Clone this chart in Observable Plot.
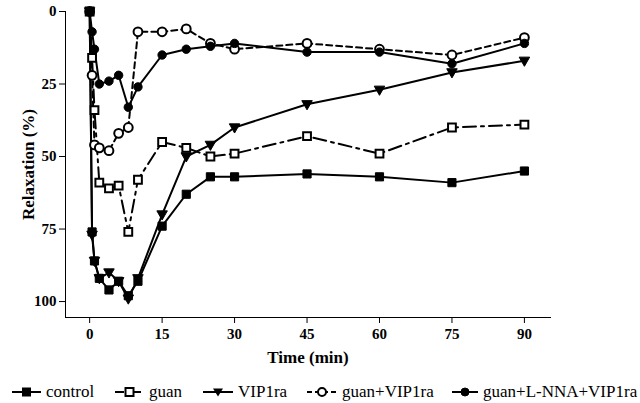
<!DOCTYPE html>
<html>
<head>
<meta charset="utf-8">
<script src="https://cdn.jsdelivr.net/npm/d3@7"></script>
<script src="https://cdn.jsdelivr.net/npm/@observablehq/plot@0.6"></script>
<style>
  body { margin: 0; background: #fff; }
  #wrap { position: relative; width: 640px; height: 403px; font-family: "Liberation Serif", "Times New Roman", Times, serif; }
  #chart svg { display: block; }
  #chart svg text { font-family: "Liberation Serif", "Times New Roman", Times, serif; }
  g[aria-label="y-axis label"], g[aria-label="x-axis label"] { font-size: 17px; font-weight: bold; }
  #legend { position: absolute; left: 0; top: 382px; width: 640px; height: 20px; }
  .item { position: absolute; top: 0; height: 20px; display: flex; align-items: center; font-size: 17px; color: #000; white-space: nowrap; }
  .item svg { margin-right: 5px; }
</style>
</head>
<body>
<div id="wrap">
  <div id="chart"></div>
  <div id="legend"></div>
</div>
<script>
// ---- data ----
const times = [0, 0.5, 1, 2, 4, 6, 8, 10, 15, 20, 25, 30, 45, 60, 75, 90];
const control  = [0, 76, 86, 92, 96, 93, 98, 93, 74, 63, 57, 57, 56, 57, 59, 55];
const guan     = [0, 16, 34, 59, 61, 60, 76, 58, 45, 47, 50, 49, 43, 49, 40, 39];
const vip1ra   = [0, 77, 86, 92, 90, 93, 99, 92, 70, 50, 46, 40, 32, 27, 21, 17];
const guanVip  = [0, 22, 46, 47, 48, 42, 40, 7, 7, 6, 11, 13, 11, 13, 15, 9];
const guanLnna = [0, 7, 13, 25, 24, 22, 33, 26, 15, 13, 12, 11, 14, 14, 18, 11];
const seriesNames = ["control", "guan", "VIP1ra", "guan+VIP1ra", "guan+L-NNA+VIP1ra"];
const xTicks = [0, 15, 30, 45, 60, 75, 90];
const yTicks = [0, 25, 50, 75, 100];

// custom downward triangle symbol
const triangleDown = {
  draw(ctx, size) {
    const h = Math.sqrt(size / Math.PI) * 1.25;
    ctx.moveTo(-h, -h * 0.7);
    ctx.lineTo(h, -h * 0.7);
    ctx.lineTo(0, h * 1.05);
    ctx.closePath();
  }
};

const styles = {
  "control":            {symbol: "square",  fill: "black", dash: null,          r: 4.6},
  "guan":               {symbol: "square",  fill: "white", dash: "13,5,3,5",    r: 4.4},
  "VIP1ra":             {symbol: triangleDown, fill: "black", dash: null,       r: 4.2},
  "guan+VIP1ra":        {symbol: "circle",  fill: "white", dash: "6,4",         r: 4.4},
  "guan+L-NNA+VIP1ra":  {symbol: "circle",  fill: "black", dash: null,          r: 4.2}
};
const allValues = [control, guan, vip1ra, guanVip, guanLnna];
const rows = seriesNames.map((name, i) => times.map((t, j) => ({series: name, t, v: allValues[i][j]})));

const marks = [];
seriesNames.forEach((name, i) => {
  const s = styles[name];
  marks.push(Plot.line(rows[i], {x: "t", y: "v", stroke: "black", strokeWidth: 2, strokeDasharray: s.dash || undefined}));
});
seriesNames.forEach((name, i) => {
  const s = styles[name];
  marks.push(Plot.dot(rows[i], {x: "t", y: "v", symbol: s.symbol, r: s.r, fill: s.fill, stroke: "black", strokeWidth: s.fill === "white" ? 2 : 1}));
});

const chart = Plot.plot({
  width: 640,
  height: 372,
  marginLeft: 65,
  marginRight: 90,
  marginTop: 11,
  marginBottom: 55,
  style: {fontFamily: "'Liberation Serif', 'Times New Roman', Times, serif", fontSize: "15px", fontWeight: "bold", color: "black", background: "white"},
  x: {domain: [-5, 95.4], ticks: xTicks, tickSize: 6, tickPadding: 5, line: true, label: "Time (min)", labelArrow: "none", labelAnchor: "center", labelOffset: 45},
  y: {domain: [0, 105.5], reverse: true, ticks: yTicks, tickSize: 6, tickPadding: 3, line: true, label: "Relaxation (%)", labelArrow: "none", labelAnchor: "center", labelOffset: 44},
  marks
});
document.getElementById("chart").appendChild(chart);

// ---- legend (HTML below the svg) ----
const legendX = [12, 115, 203, 307, 452];
const legendW = [29, 29, 30, 30, 26];
const legend = document.getElementById("legend");
seriesNames.forEach((name, i) => {
  const s = styles[name];
  const item = document.createElement("div");
  item.className = "item";
  item.style.left = legendX[i] + "px";
  const w = legendW[i], hgt = 14, cy = 7, cx = w / 2;
  let marker = "";
  if (s.symbol === "square") {
    marker = `<rect x="${cx-4}" y="${cy-4}" width="8" height="8" fill="${s.fill}" stroke="black" stroke-width="${s.fill==='white'?2:1}"/>`;
  } else if (s.symbol === "circle") {
    marker = `<circle cx="${cx}" cy="${cy}" r="4" fill="${s.fill}" stroke="black" stroke-width="${s.fill==='white'?2:1}"/>`;
  } else {
    marker = `<path d="M${cx-5},${cy-3.5}L${cx+5},${cy-3.5}L${cx},${cy+4.5}Z" fill="black"/>`;
  }
  const dash = s.dash ? `stroke-dasharray="${name === 'guan' ? '9,3,2,3' : '5,3'}"` : "";
  item.innerHTML = `<svg width="${w}" height="${hgt}"><line x1="0" x2="${w}" y1="${cy}" y2="${cy}" stroke="black" stroke-width="2" ${dash}/>${marker}</svg><span>${name}</span>`;
  legend.appendChild(item);
});
</script>
</body>
</html>
